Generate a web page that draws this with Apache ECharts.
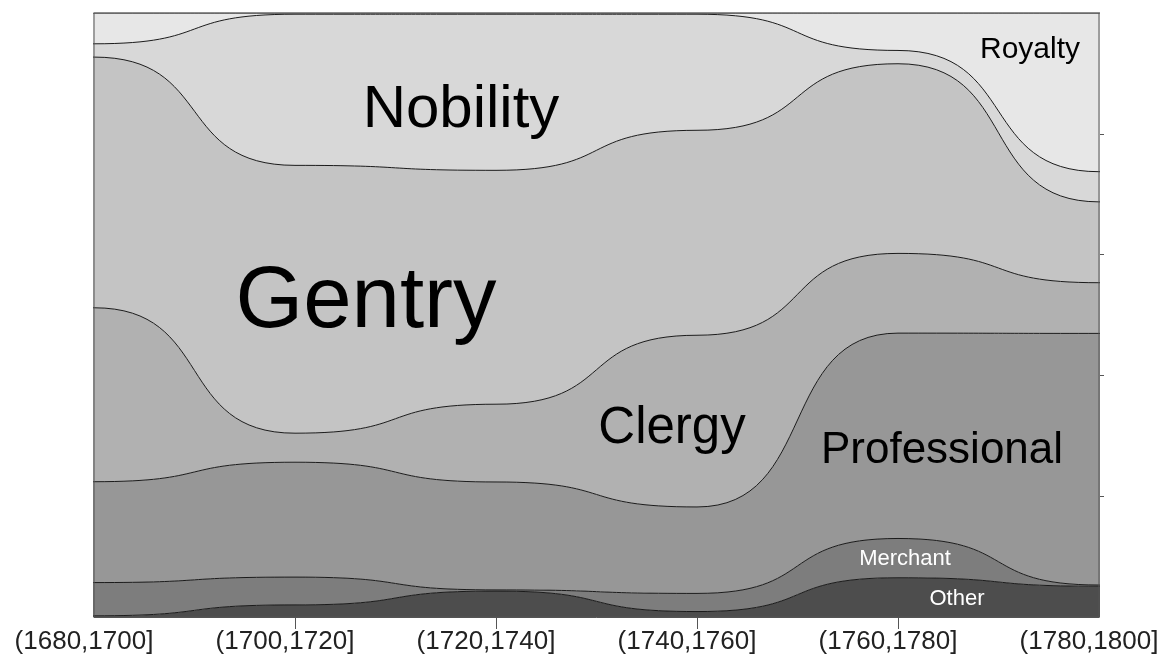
<!DOCTYPE html>
<html>
<head>
<meta charset="utf-8">
<script src="https://cdn.jsdelivr.net/npm/echarts@6/dist/echarts.min.js"></script>
<style>
html,body{margin:0;padding:0;background:#fff;}
#chart{width:1164px;height:666px;}
</style>
</head>
<body>
<div id="chart"></div>
<script>
// Categories (x tick labels)
const categories = ['(1680,1700]', '(1700,1720]', '(1720,1740]', '(1740,1760]', '(1760,1780]', '(1780,1800]'];
// Shares (%), bottom layer first
const other        = [0.2, 2.0, 4.3, 0.9, 6.5, 5.1];
const merchant     = [5.5, 4.6, 0.2, 3.0, 6.5, 0.2];
const professional = [16.7, 19.0, 17.9, 14.3, 34.0, 41.7];
const clergy       = [28.8, 4.8, 12.9, 28.4, 13.2, 8.4];
const gentry       = [41.5, 44.3, 38.8, 33.9, 31.4, 13.4];
const nobility     = [2.2, 25.0, 25.9, 19.2, 2.2, 5.0];
const royalty      = [5.1, 0.2, 0.2, 0.2, 6.2, 26.3];

const seriesNames  = ['Other', 'Merchant', 'Professional', 'Clergy', 'Gentry', 'Nobility', 'Royalty'];
const seriesValues = [other, merchant, professional, clergy, gentry, nobility, royalty];
const seriesColors = ['#4d4d4d', '#7d7d7d', '#979797', '#b1b1b1', '#c4c4c4', '#d8d8d8', '#e7e7e7'];

// normalise to 100% per category
const totals = categories.map((c, i) => seriesValues.reduce((s, arr) => s + arr[i], 0));

// axis categories with a hidden pad slot at each end (outside the visible range)
const axisCats = [''].concat(categories, ['']);

function buildData(arr) {
  const pct = arr.map((v, i) => v / totals[i] * 100);
  // hold the end values one slot beyond the visible range so the edge plateaus are flat
  return [pct[0]].concat(pct, [pct[pct.length - 1]]);
}

const FONT = 'Liberation Sans, Arial, sans-serif';

const series = seriesNames.map((name, k) => ({
  name: name,
  type: 'line',
  stack: 'all',
  data: buildData(seriesValues[k]),
  smooth: 0.6,
  smoothMonotone: 'x',
  symbol: 'none',
  clip: true,
  lineStyle: { color: '#1a1a1a', width: 1 },
  areaStyle: { color: seriesColors[k], opacity: 1 },
  emphasis: { disabled: true },
  z: 2
}));

const labels = [
  { text: 'Nobility', x: 461, y: 110, size: 60, color: '#000' },
  { text: 'Gentry', x: 366, y: 303, size: 87, color: '#000' },
  { text: 'Clergy', x: 672, y: 429, size: 51, color: '#000' },
  { text: 'Professional', x: 942, y: 451, size: 44, color: '#000' },
  { text: 'Royalty', x: 1030, y: 50, size: 30, color: '#000' },
  { text: 'Merchant', x: 905, y: 559, size: 22, color: '#fff' },
  { text: 'Other', x: 957, y: 599, size: 22, color: '#fff' }
];

const lastIdx = categories.length; // index of last real category in axisCats

const chart = echarts.init(document.getElementById('chart'), null, { renderer: 'canvas' });
chart.setOption({
  animation: false,
  backgroundColor: '#fff',
  grid: { left: 94, right: 65, top: 13, bottom: 49, show: true, borderColor: '#555', borderWidth: 1, backgroundColor: 'transparent', z: 5 },
  xAxis: {
    type: 'category', data: axisCats, boundaryGap: false, min: 1, max: lastIdx,
    axisLine: { show: true, onZero: false, lineStyle: { color: '#555', width: 1 } },
    axisTick: { show: true, length: 12, lineStyle: { color: '#555' }, interval: (i) => i > 1 && i < lastIdx },
    axisLabel: {
      show: true, interval: (i) => i >= 1 && i <= lastIdx,
      color: '#222', fontSize: 26, fontFamily: FONT, margin: 12, padding: [0, 20, 0, 0]
    },
    splitLine: { show: false }
  },
  yAxis: {
    type: 'value', min: 0, max: 100, interval: 20, position: 'right',
    axisLine: { show: true, onZero: false, lineStyle: { color: '#555', width: 1 } },
    axisTick: { show: true, length: 5, lineStyle: { color: '#555' }, customValues: [20, 40, 60, 80] },
    axisLabel: { show: false },
    splitLine: { show: false }
  },
  series: series,
  graphic: labels.map(l => ({
    type: 'text', x: l.x, y: l.y, z: 100, silent: true,
    style: { text: l.text, font: l.size + 'px ' + FONT, fill: l.color, align: 'center', verticalAlign: 'middle', textAlign: 'center', textVerticalAlign: 'middle' }
  }))
});
</script>
</body>
</html>
